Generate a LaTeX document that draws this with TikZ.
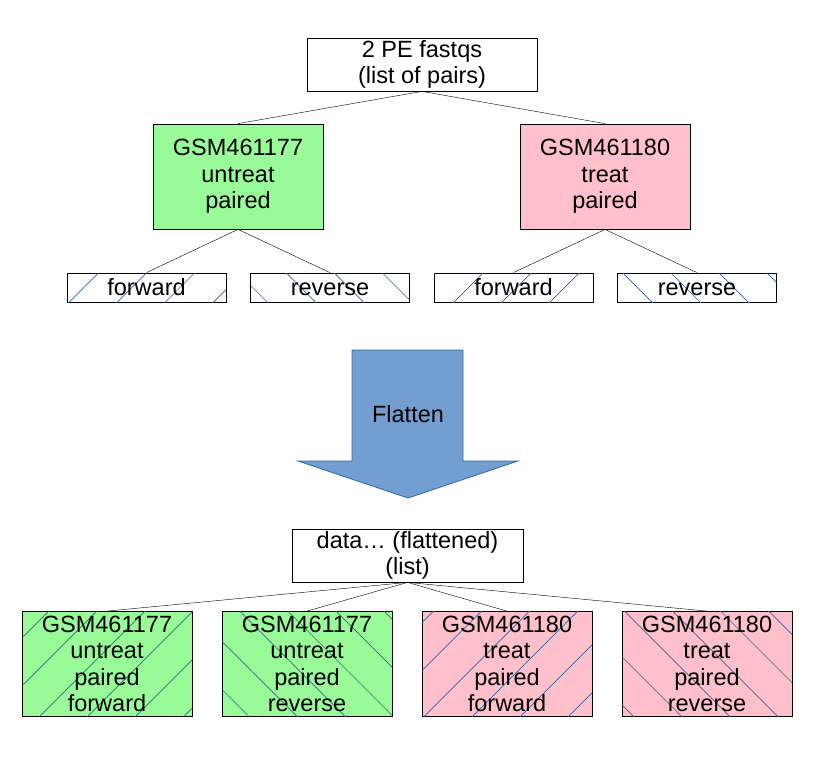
\documentclass[tikz,border=0pt]{standalone}
\usepackage{fontspec}
\setmainfont{Liberation Sans}
\usetikzlibrary{patterns.meta}
\definecolor{untreat}{RGB}{152,251,152}
\definecolor{treat}{RGB}{255,192,203}
\definecolor{hatch}{RGB}{52,101,164}
\definecolor{flat}{RGB}{114,159,207}

\begin{document}
\begin{tikzpicture}[x=1pt,y=-1pt]
\tikzstyle{every node}=[inner sep=0pt, align=center, font=\fontsize{23.5}{26.5}\selectfont]
\tikzstyle{box}=[draw, line width=0.8pt, rectangle]
\tikzstyle{top}=[box, minimum width=230pt, minimum height=53pt]
\tikzstyle{sample}=[box, minimum width=170pt, minimum height=105pt]
\tikzstyle{readbox}=[box, minimum width=159pt, minimum height=29pt, text height=19pt, text depth=3pt]
\tikzstyle{fw}=[postaction={pattern={Lines[angle=45,distance=34pt,line width=0.7pt]}, pattern color=hatch}]
\tikzstyle{rv}=[postaction={pattern={Lines[angle=-45,distance=34pt,line width=0.7pt]}, pattern color=hatch}]
\useasboundingbox (0,0) rectangle (816,756);
% nested input
\draw (422,64.5) node (pairs) [top] {2 PE fastqs\\(list of pairs)};
\draw (238,176.5) node (s1) [sample,fill=untreat] {GSM461177\\untreat\\paired};
\draw (605,176.5) node (s2) [sample,fill=treat] {GSM461180\\treat\\paired};
\draw (146.5,287.5) node (s1f) [readbox,fw] {forward};
\draw (330,287.5) node (s1r) [readbox,rv] {reverse};
\draw (513.5,287.5) node (s2f) [readbox,fw] {forward};
\draw (697,287.5) node (s2r) [readbox,rv] {reverse};
\draw (pairs.south) -- (s1.north);
\draw (pairs.south) -- (s2.north);
\draw (s1.south) -- (s1f.north);
\draw (s1.south) -- (s1r.north);
\draw (s2.south) -- (s2f.north);
\draw (s2.south) -- (s2r.north);
% flatten arrow
\draw [fill=flat, draw=hatch, line width=0.8pt] (352,350) -- (463,350) -- (463,461) -- (518,461)
  -- (408,498) -- (298,461) -- (352,461) -- cycle;
\draw (408,414) node (flatten) {Flatten};
% flat output
\draw (407.5,555.5) node (flat) [top,minimum width=231pt] {data\ldots\ (flattened)\\(list)};
\draw (107,664) node (o1) [sample,fill=untreat,fw] {GSM461177\\untreat\\paired\\forward};
\draw (307,664) node (o2) [sample,fill=untreat,rv] {GSM461177\\untreat\\paired\\reverse};
\draw (507,664) node (o3) [sample,fill=treat,fw] {GSM461180\\treat\\paired\\forward};
\draw (707,664) node (o4) [sample,fill=treat,rv] {GSM461180\\treat\\paired\\reverse};
\draw (flat.south) -- (o1.north);
\draw (flat.south) -- (o2.north);
\draw (flat.south) -- (o3.north);
\draw (flat.south) -- (o4.north);
\end{tikzpicture}
\end{document}
